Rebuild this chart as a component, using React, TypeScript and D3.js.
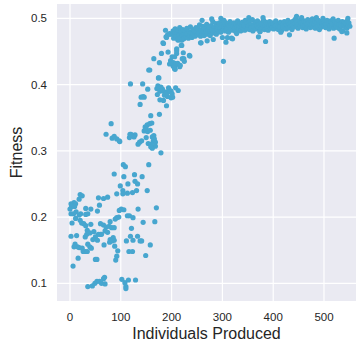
import { useMemo } from "react";
import * as d3 from "d3";

// individuals produced (x) vs fitness (y)
const earlyPoints: [number, number][] = [
  [87, 0.265], [106, 0.261], [127, 0.264], [142, 0.261], [99, 0.247], [114, 0.25], [128, 0.254], [133, 0.25],
  [104, 0.24], [92, 0.235], [104, 0.235], [113, 0.236], [123, 0.237], [131, 0.24], [152, 0.24],
  [20, 0.234], [24, 0.232], [18, 0.227], [8, 0.222], [2, 0.22], [11, 0.22], [3, 0.216], [0, 0.212], [9, 0.216],
  [56, 0.229], [66, 0.228], [74, 0.23], [58, 0.218], [31, 0.213], [41, 0.212], [12, 0.208], [2, 0.205],
  [21, 0.205], [31, 0.204], [35, 0.205], [54, 0.209], [97, 0.21], [101, 0.212], [106, 0.211], [134, 0.212],
  [170, 0.214], [113, 0.202], [117, 0.202], [124, 0.199], [89, 0.197], [92, 0.199], [96, 0.2], [79, 0.193],
  [4, 0.191], [11, 0.198], [20, 0.195], [23, 0.191], [27, 0.19], [31, 0.187], [41, 0.189], [60, 0.19],
  [66, 0.188], [71, 0.185], [77, 0.186], [82, 0.184], [87, 0.184], [144, 0.192], [167, 0.193], [121, 0.183],
  [34, 0.18], [47, 0.178], [69, 0.179], [74, 0.177], [60, 0.174], [56, 0.174], [62, 0.174], [39, 0.176],
  [30, 0.17], [13, 0.172], [2, 0.171], [50, 0.17], [45, 0.166], [54, 0.165], [79, 0.166], [85, 0.169],
  [87, 0.165], [78, 0.162], [83, 0.164], [111, 0.164], [119, 0.171], [124, 0.165], [133, 0.171], [138, 0.164],
  [141, 0.164], [158, 0.158], [10, 0.159], [15, 0.155], [18, 0.154], [8, 0.155], [24, 0.153], [39, 0.155],
  [42, 0.153], [35, 0.159], [67, 0.158], [88, 0.156], [94, 0.149], [26, 0.148], [30, 0.148], [34, 0.148],
  [116, 0.148], [123, 0.148], [92, 0.141], [149, 0.142], [16, 0.138], [50, 0.136], [53, 0.136], [90, 0.135],
  [6, 0.126], [35, 0.095], [44, 0.096], [49, 0.1], [53, 0.103], [58, 0.103], [62, 0.1], [66, 0.107],
  [68, 0.109], [69, 0.099], [102, 0.106], [108, 0.101], [110, 0.095], [110, 0.092], [115, 0.105], [129, 0.105],
  [33, 0.174], [18, 0.203], [7, 0.205],
];

const rampPoints: [number, number][] = [
  [71, 0.325], [81, 0.341], [83, 0.319], [97, 0.315], [117, 0.32], [120, 0.325], [128, 0.324], [134, 0.31],
  [137, 0.313], [141, 0.315], [146, 0.33], [148, 0.336], [152, 0.339], [157, 0.341], [161, 0.342], [159, 0.353],
  [154, 0.311], [162, 0.321], [165, 0.323], [164, 0.315], [168, 0.313], [168, 0.307], [162, 0.304], [179, 0.297],
  [176, 0.355], [155, 0.279], [105, 0.279], [109, 0.276], [87, 0.322], [92, 0.318], [98, 0.314], [118, 0.325],
  [126, 0.321], [150, 0.333], [153, 0.329], [158, 0.331], [160, 0.31], [166, 0.318], [150, 0.32], [159, 0.306],
  [119, 0.401], [143, 0.401], [153, 0.393], [146, 0.381], [140, 0.381], [144, 0.382], [138, 0.37], [173, 0.398],
  [171, 0.394], [175, 0.396], [179, 0.396], [182, 0.393], [172, 0.385], [177, 0.377], [184, 0.376], [190, 0.368],
  [174, 0.41], [177, 0.39], [181, 0.391], [186, 0.389], [190, 0.387], [194, 0.395], [186, 0.384], [199, 0.38],
  [208, 0.395], [192, 0.382], [195, 0.393], [199, 0.39], [193, 0.389], [201, 0.386], [202, 0.381], [213, 0.391],
  [188, 0.386], [155, 0.422], [157, 0.422], [175, 0.41], [165, 0.439], [176, 0.433], [180, 0.447], [183, 0.463],
  [184, 0.462], [188, 0.482], [189, 0.472], [190, 0.471], [192, 0.475], [196, 0.477], [197, 0.476], [193, 0.449],
  [201, 0.442], [206, 0.442], [203, 0.428], [206, 0.424], [206, 0.432], [203, 0.433], [208, 0.43], [212, 0.432],
  [198, 0.436], [196, 0.431], [207, 0.423], [205, 0.426], [210, 0.447], [213, 0.467], [210, 0.454], [210, 0.451],
  [216, 0.427], [217, 0.429], [220, 0.459], [219, 0.459], [220, 0.467], [223, 0.448], [224, 0.439], [221, 0.439],
  [225, 0.435], [235, 0.444], [236, 0.443],
];

const plateauPoints: [number, number][] = [
  [201, 0.476], [203, 0.481], [204, 0.47], [206, 0.478], [207, 0.484], [209, 0.473], [210, 0.479], [212, 0.468], [213, 0.482], [215, 0.475],
  [216, 0.486], [218, 0.471], [219, 0.479], [221, 0.474], [222, 0.483], [224, 0.469], [225, 0.477], [227, 0.481], [228, 0.472], [230, 0.485],
  [231, 0.476], [233, 0.47], [234, 0.48], [236, 0.474], [237, 0.487], [239, 0.478], [240, 0.471], [242, 0.483], [243, 0.476], [245, 0.481],
  [246, 0.473], [248, 0.486], [249, 0.479], [251, 0.475], [252, 0.484], [254, 0.478], [255, 0.49], [257, 0.473], [258, 0.482], [260, 0.477],
  [261, 0.488], [263, 0.48], [264, 0.474], [266, 0.485], [267, 0.479], [269, 0.491], [270, 0.476], [272, 0.483], [273, 0.487], [275, 0.48],
  [276, 0.474], [278, 0.489], [279, 0.483], [281, 0.495], [282, 0.478], [284, 0.486], [285, 0.481], [287, 0.492], [288, 0.476], [290, 0.484],
  [291, 0.488], [293, 0.48], [294, 0.493], [296, 0.485], [297, 0.479], [299, 0.49], [300, 0.497], [302, 0.483], [303, 0.488], [305, 0.494],
  [306, 0.481], [308, 0.489], [309, 0.485], [311, 0.492], [312, 0.479], [314, 0.487], [315, 0.495], [317, 0.484], [318, 0.49], [320, 0.482],
  [321, 0.488], [323, 0.493], [324, 0.485], [326, 0.48], [327, 0.491], [329, 0.487], [330, 0.496], [332, 0.483], [333, 0.489], [335, 0.492],
  [336, 0.481], [338, 0.488], [339, 0.494], [341, 0.485], [342, 0.49], [344, 0.482], [345, 0.497], [347, 0.487], [348, 0.492], [350, 0.484],
  [351, 0.489], [353, 0.495], [354, 0.483], [356, 0.49], [357, 0.486], [359, 0.498], [360, 0.481], [362, 0.491], [363, 0.487], [365, 0.494],
  [366, 0.484], [368, 0.489], [369, 0.496], [371, 0.486], [372, 0.491], [374, 0.48], [375, 0.488], [377, 0.493], [378, 0.485], [380, 0.49],
  [381, 0.497], [383, 0.483], [384, 0.489], [386, 0.494], [387, 0.486], [389, 0.491], [390, 0.482], [392, 0.488], [393, 0.495], [395, 0.485],
  [396, 0.49], [398, 0.487], [399, 0.493], [401, 0.484], [402, 0.491], [404, 0.488], [405, 0.496], [407, 0.485], [408, 0.49], [410, 0.483],
  [411, 0.492], [413, 0.487], [414, 0.494], [416, 0.489], [417, 0.482], [419, 0.491], [420, 0.486], [422, 0.495], [423, 0.488], [425, 0.492],
  [426, 0.484], [428, 0.49], [429, 0.497], [431, 0.486], [432, 0.491], [434, 0.488], [435, 0.494], [437, 0.483], [438, 0.49], [440, 0.496],
  [441, 0.487], [443, 0.492], [444, 0.499], [446, 0.489], [447, 0.494], [449, 0.485], [450, 0.491], [452, 0.497], [453, 0.488], [455, 0.493],
  [456, 0.501], [458, 0.486], [459, 0.492], [461, 0.496], [462, 0.489], [464, 0.494], [465, 0.484], [467, 0.491], [468, 0.498], [470, 0.488],
  [471, 0.493], [473, 0.486], [474, 0.495], [476, 0.49], [477, 0.499], [479, 0.487], [480, 0.492], [482, 0.496], [483, 0.485], [485, 0.491],
  [486, 0.494], [488, 0.488], [489, 0.497], [491, 0.483], [492, 0.49], [494, 0.495], [495, 0.487], [497, 0.492], [498, 0.5], [500, 0.489],
  [501, 0.494], [503, 0.486], [504, 0.491], [506, 0.497], [507, 0.488], [509, 0.493], [510, 0.484], [512, 0.49], [513, 0.496], [515, 0.487],
  [516, 0.492], [518, 0.499], [519, 0.485], [521, 0.491], [522, 0.495], [524, 0.488], [525, 0.493], [527, 0.486], [528, 0.497], [530, 0.49],
  [531, 0.484], [533, 0.492], [534, 0.488], [536, 0.495], [537, 0.481], [539, 0.49], [540, 0.494], [542, 0.487], [543, 0.492], [545, 0.485],
  [546, 0.496], [548, 0.489], [549, 0.493], [551, 0.488],
  // stragglers above / below the band
  [302, 0.435], [307, 0.464], [318, 0.47], [310, 0.471], [320, 0.469], [328, 0.477], [371, 0.472], [374, 0.48],
  [385, 0.465], [415, 0.479], [432, 0.475], [520, 0.47], [545, 0.478], [535, 0.48], [257, 0.463], [258, 0.463],
  [270, 0.466], [282, 0.468], [300, 0.471], [279, 0.499], [297, 0.5], [303, 0.497], [352, 0.501], [380, 0.501],
  [446, 0.503], [485, 0.501], [547, 0.5], [260, 0.497],
];

const xTicks = [0, 100, 200, 300, 400, 500];
const yTicks = [0.1, 0.2, 0.3, 0.4, 0.5];

const W = 360;
const H = 347;
const plot = { left: 57, right: 356, top: 4, bottom: 301 };

export default function App() {
  const x = useMemo(() => d3.scaleLinear().domain([-25.6, 563]).range([plot.left, plot.right]), []);
  const y = useMemo(() => d3.scaleLinear().domain([0.0733, 0.5216]).range([plot.bottom, plot.top]), []);

  const all = [...earlyPoints, ...rampPoints, ...plateauPoints];
  const font = "'Liberation Sans', Arial, sans-serif";

  return (
    <svg width={W} height={H} style={{ position: "absolute", left: 0, top: 0 }} fontFamily={font}>
      <rect x={plot.left} y={plot.top} width={plot.right - plot.left} height={plot.bottom - plot.top} fill="#eaeaf2" />
      {xTicks.map((t) => (
        <line key={"gx" + t} x1={x(t)} x2={x(t)} y1={plot.top} y2={plot.bottom} stroke="#fff" strokeWidth={1.2} />
      ))}
      {yTicks.map((t) => (
        <line key={"gy" + t} x1={plot.left} x2={plot.right} y1={y(t)} y2={y(t)} stroke="#fff" strokeWidth={1.2} />
      ))}
      {all.map((d, i) => (
        <circle key={i} cx={x(d[0])} cy={y(d[1])} r={2.6} fill="#47a6cf" />
      ))}
      {xTicks.map((t) => (
        <text key={"tx" + t} x={x(t)} y={321} textAnchor="middle" fontSize={11.5} fill="#262626">
          {t}
        </text>
      ))}
      {yTicks.map((t) => (
        <text key={"ty" + t} x={47} y={y(t)} dy="0.35em" textAnchor="end" fontSize={11.5} fill="#262626">
          {d3.format(".1f")(t)}
        </text>
      ))}
      <text x={(plot.left + plot.right) / 2} y={339} textAnchor="middle" fontSize={16} fill="#262626">
        Individuals Produced
      </text>
      <text
        transform={`translate(22, ${(plot.top + plot.bottom) / 2}) rotate(-90)`}
        textAnchor="middle"
        fontSize={16}
        fill="#262626"
      >
        Fitness
      </text>
    </svg>
  );
}
